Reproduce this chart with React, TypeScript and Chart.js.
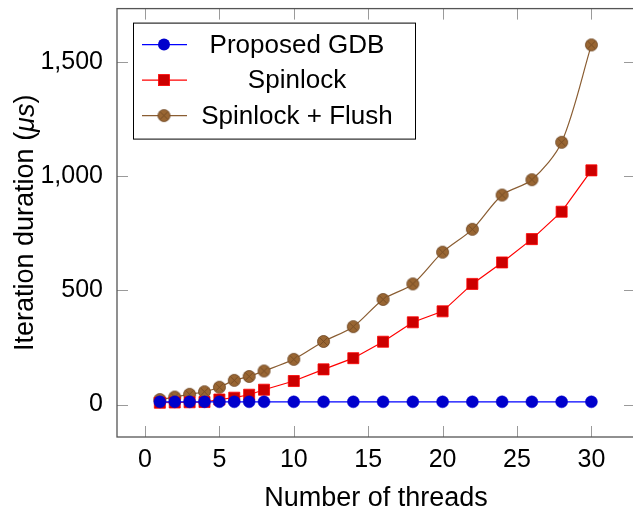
import React, { useEffect, useRef } from "react";
import { Chart, registerables } from "chart.js";

Chart.register(...registerables);

// ---- data ----
const threads = [1, 2, 3, 4, 5, 6, 7, 8, 10, 12, 14, 16, 18, 20, 22, 24, 26, 28, 30];
const proposedGdb = [12, 12, 12, 12, 12, 12, 12, 12, 12, 12, 12, 12, 12, 12, 12, 12, 12, 12, 12];
const spinlock = [8, 9, 10, 11, 22, 30, 43, 65, 103, 154, 203, 275, 360, 408, 528, 622, 724, 844, 1025];
const spinlockFlush = [22, 33, 45, 56, 76, 106, 123, 147, 198, 276, 341, 460, 528, 667, 767, 917, 984, 1148, 1574];
const seriesLabels = ["Proposed GDB", "Spinlock", "Spinlock + Flush"];
const xTicks = [0, 5, 10, 15, 20, 25, 30];
const yTicks = [0, 500, 1000, 1500];
const xTitle = "Number of threads";
const yTitleParts = ["Iteration duration (", "\u03BCs", ")"];

const FONT = "'Liberation Sans', Arial, sans-serif";

const BLUE_LINE = "#0000ff";
const BLUE_FILL = "#0000cc";
const RED_LINE = "#ff0000";
const RED_FILL = "#cc0000";
const BROWN_LINE = "#8a5d32";
const BROWN_FILL = "#996633";
const BROWN_EDGE = "#6e4622";

const CANVAS_W = 645;
const CANVAS_H = 511;

function makeOtimes(r: number): HTMLCanvasElement {
  const size = Math.ceil(r * 2 + 3);
  const c = document.createElement("canvas");
  c.width = size;
  c.height = size;
  const g = c.getContext("2d")!;
  const cx = size / 2;
  g.beginPath();
  g.arc(cx, cx, r, 0, Math.PI * 2);
  g.fillStyle = BROWN_FILL;
  g.fill();
  g.lineWidth = 0.9;
  g.strokeStyle = BROWN_EDGE;
  g.stroke();
  const d = r * Math.SQRT1_2;
  g.beginPath();
  g.moveTo(cx - d, cx - d);
  g.lineTo(cx + d, cx + d);
  g.moveTo(cx - d, cx + d);
  g.lineTo(cx + d, cx - d);
  g.lineWidth = 0.8;
  g.stroke();
  return c;
}

const framePlugin = {
  id: "pgfFrame",
  beforeDatasetsDraw(chart: any) {
    const { ctx, chartArea: a, scales } = chart;
    ctx.save();
    ctx.strokeStyle = "#9a9a9a";
    ctx.lineWidth = 1;
    const tl = 11;
    ctx.beginPath();
    for (const v of xTicks) {
      const px = Math.round(scales.x.getPixelForValue(v)) + 0.5;
      ctx.moveTo(px, a.bottom);
      ctx.lineTo(px, a.bottom - tl);
      ctx.moveTo(px, a.top);
      ctx.lineTo(px, a.top + tl);
    }
    for (const v of yTicks) {
      const py = Math.round(scales.y.getPixelForValue(v)) + 0.5;
      ctx.moveTo(a.left, py);
      ctx.lineTo(a.left + tl, py);
      ctx.moveTo(a.right, py);
      ctx.lineTo(a.right - tl, py);
    }
    ctx.stroke();
    ctx.strokeStyle = "#555555";
    ctx.lineWidth = 1.3;
    ctx.strokeRect(a.left, a.top, a.right - a.left, a.bottom - a.top);
    ctx.restore();
  },
};

const yTitlePlugin = {
  id: "yTitleMixed",
  afterDraw(chart: any) {
    const { ctx, chartArea: a } = chart;
    const normal = `27px ${FONT}`;
    const italic = `italic 27px ${FONT}`;
    const fonts = [normal, italic, normal];
    ctx.save();
    let total = 0;
    const widths = yTitleParts.map((t, i) => {
      ctx.font = fonts[i];
      const w = ctx.measureText(t).width;
      total += w;
      return w;
    });
    ctx.translate(26, (a.top + a.bottom) / 2);
    ctx.rotate(-Math.PI / 2);
    ctx.fillStyle = "#000";
    ctx.textBaseline = "middle";
    ctx.textAlign = "left";
    let x = -total / 2;
    yTitleParts.forEach((t, i) => {
      ctx.font = fonts[i];
      ctx.fillText(t, x, 0);
      x += widths[i];
    });
    ctx.restore();
  },
};

const legendPlugin = {
  id: "pgfLegend",
  afterDraw(chart: any) {
    const { ctx, chartArea: a } = chart;
    const x0 = a.left + 16;
    const y0 = a.top + 14;
    const w = 282;
    const h = 116;
    ctx.save();
    ctx.fillStyle = "#fff";
    ctx.fillRect(x0, y0, w, h);
    ctx.strokeStyle = "#000";
    ctx.lineWidth = 1;
    ctx.strokeRect(x0 + 0.5, y0 + 0.5, w, h);
    const lineColors = [BLUE_LINE, RED_LINE, BROWN_LINE];
    seriesLabels.forEach((label, i) => {
      const cy = y0 + 22 + i * 35.5;
      ctx.beginPath();
      ctx.moveTo(x0 + 9, cy);
      ctx.lineTo(x0 + 54, cy);
      ctx.strokeStyle = lineColors[i];
      ctx.lineWidth = 1.2;
      ctx.stroke();
      const mx = x0 + 31;
      if (i === 0) {
        ctx.beginPath();
        ctx.arc(mx, cy, 6, 0, Math.PI * 2);
        ctx.fillStyle = BLUE_FILL;
        ctx.fill();
      } else if (i === 1) {
        ctx.fillStyle = RED_FILL;
        ctx.fillRect(mx - 5.5, cy - 5.5, 11, 11);
        ctx.strokeStyle = RED_LINE;
        ctx.lineWidth = 0.8;
        ctx.strokeRect(mx - 5.5, cy - 5.5, 11, 11);
      } else {
        const img = makeOtimes(6);
        ctx.drawImage(img, mx - img.width / 2, cy - img.height / 2);
      }
      ctx.fillStyle = "#000";
      ctx.font = `26px ${FONT}`;
      ctx.textAlign = "center";
      ctx.textBaseline = "middle";
      ctx.fillText(label, x0 + 164, cy + 1);
    });
    ctx.restore();
  },
};

export default function App() {
  const ref = useRef<HTMLCanvasElement | null>(null);

  useEffect(() => {
    if (!ref.current) return;
    const otimes = makeOtimes(6);
    const chart = new Chart(ref.current, {
      type: "line",
      data: {
        datasets: [
          {
            label: seriesLabels[0],
            data: threads.map((x, i) => ({ x, y: proposedGdb[i] })),
            borderColor: BLUE_LINE,
            borderWidth: 1.2,
            pointStyle: "circle",
            pointRadius: 6,
            pointBackgroundColor: BLUE_FILL,
            pointBorderColor: BLUE_FILL,
            pointBorderWidth: 0.5,
            tension: 0,
          },
          {
            label: seriesLabels[1],
            data: threads.map((x, i) => ({ x, y: spinlock[i] })),
            borderColor: RED_LINE,
            borderWidth: 1.2,
            pointStyle: "rect",
            pointRadius: 7.8,
            pointBackgroundColor: RED_FILL,
            pointBorderColor: RED_LINE,
            pointBorderWidth: 0.8,
            tension: 0,
          },
          {
            label: seriesLabels[2],
            data: threads.map((x, i) => ({ x, y: spinlockFlush[i] })),
            borderColor: BROWN_LINE,
            borderWidth: 1.2,
            pointStyle: otimes as any,
            pointRadius: 6,
            tension: 0.3,
          },
        ],
      },
      options: {
        responsive: false,
        animation: false,
        devicePixelRatio: 1,
        layout: { padding: { top: 7, right: 10, left: 0, bottom: 0 } },
        plugins: {
          legend: { display: false },
          tooltip: { enabled: false },
        },
        scales: {
          x: {
            type: "linear",
            min: -1.88,
            max: 32.93,
            grid: { display: false, drawTicks: false },
            border: { display: false },
            afterBuildTicks: (s: any) => {
              s.ticks = xTicks.map((v) => ({ value: v }));
            },
            afterFit: (s: any) => {
              s.height = 74;
              s.paddingLeft = 0;
              s.paddingRight = 0;
              s.paddingTop = 0;
              s.paddingBottom = 0;
            },
            ticks: {
              padding: 8,
              color: "#000",
              font: { family: FONT, size: 25 },
              maxRotation: 0,
              autoSkip: false,
            },
            title: {
              display: true,
              text: xTitle,
              color: "#000",
              font: { family: FONT, size: 27 },
              padding: { top: 0, bottom: -4 },
            },
          },
          y: {
            type: "linear",
            min: -142,
            max: 1733,
            grid: { display: false, drawTicks: false },
            border: { display: false },
            afterBuildTicks: (s: any) => {
              s.ticks = yTicks.map((v) => ({ value: v }));
            },
            afterFit: (s: any) => {
              s.width = 117;
              s.paddingLeft = 0;
              s.paddingRight = 0;
              s.paddingTop = 0;
              s.paddingBottom = 0;
            },
            ticks: {
              padding: 14,
              color: "#000",
              font: { family: FONT, size: 25 },
              autoSkip: false,
              callback: (v: any) => Number(v).toLocaleString("en-US"),
            },
            title: { display: false },
          },
        },
      },
      plugins: [framePlugin, yTitlePlugin, legendPlugin],
    });
    return () => chart.destroy();
  }, []);

  return (
    <div
      style={{
        position: "absolute",
        left: 0,
        top: 0,
        width: 633,
        height: CANVAS_H,
        overflow: "hidden",
        background: "#fff",
      }}
    >
      <canvas ref={ref} width={CANVAS_W} height={CANVAS_H} style={{ display: "block" }} />
    </div>
  );
}
